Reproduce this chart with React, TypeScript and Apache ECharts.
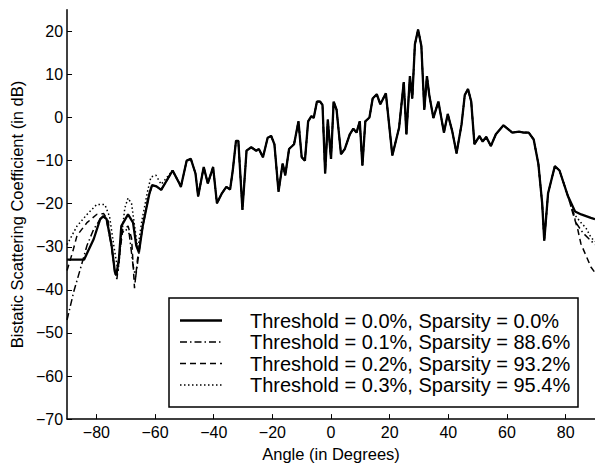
import React, { useEffect, useRef } from "react";
import * as echarts from "echarts";

// Angle (deg), bistatic scattering coefficient (dB) — threshold 0.0% (solid)
const solidPoints: [number, number][] = [
  [-90, -33], [-84.2, -33], [-80.9, -28.2], [-78.7, -23.6], [-77.6, -22.9], [-76.5, -23.6],
  [-74.8, -29.7], [-73.7, -35.8], [-73.2, -36.6], [-72.3, -32.8], [-71.5, -25.2], [-69.2, -22.5],
  [-67.5, -24.4], [-66.4, -29.7], [-65.5, -31.3], [-64.2, -25.2], [-61.9, -17.6], [-61, -15.7],
  [-59.5, -16], [-57.9, -16.8], [-54, -12.3], [-51.7, -15.3], [-51.2, -16.1], [-49.2, -10],
  [-47.8, -9.6], [-46.2, -13], [-45.3, -18.3], [-43.4, -11.5], [-42, -15.3], [-40.2, -11.5],
  [-38.9, -19.9], [-37.2, -17.6], [-35.7, -16.1], [-34.4, -16.7], [-33.5, -12.3], [-32.4, -5.4],
  [-31.6, -5.4], [-30.2, -21.4], [-28.8, -7.7], [-27.2, -6.9], [-25.5, -7.7], [-24.6, -7.3],
  [-23.2, -9.2], [-21.6, -4.7], [-20.4, -4.3], [-19.3, -6.2], [-17.9, -17.2], [-16.5, -10.7],
  [-15.6, -13.4], [-14.3, -7.3], [-12.6, -6.2], [-11.1, -0.9], [-10, -9.2], [-8.9, -10],
  [-7.8, -0.9], [-6.7, 0.3], [-5.9, -0.1], [-4.8, 3.7], [-3.7, 3.7], [-2.9, 2.9], [-2, -13],
  [-1.1, -0.5], [0, -9.6], [0.9, 3.7], [1.9, 1.8], [3.4, -8.5], [4.7, -7.3], [6.4, -3.9],
  [7.6, -2.6], [8.7, -3.5], [9.8, -0.9], [10.7, -11.1], [11.7, -0.9], [13.1, 0], [14.2, 4.4],
  [15.6, 5.4], [16.8, 3.1], [18.7, 5.6], [20.9, -8.8], [23.2, -2.4], [24.8, 8.2], [25.7, -3.9],
  [26.9, 9.6], [27.7, 4.4], [28.6, 17], [29.7, 20.4], [30.8, 16.6], [31.8, 1.8], [32.7, 9.6],
  [33.5, 5.2], [34.9, -0.1], [36.6, 3.7], [38.5, -3.5], [39.8, 0.8], [41.3, -3.1], [42.8, -8.3],
  [44.5, -1.6], [45.6, 5.2], [46.7, 6.6], [47.8, 3.7], [48.9, -6.2], [50.6, -4.3], [51.7, -5.6],
  [52.9, -4.5], [54.5, -6.6], [56.2, -3.9], [58.8, -1.8], [61.8, -3.5], [64.1, -3.3], [65.7, -3.5],
  [67.4, -3.5], [69.1, -5.1], [70.7, -10.8], [72, -20], [72.7, -28.6], [74, -17.6], [76.3, -11.3],
  [77.9, -12.3], [80.8, -18.3], [83.2, -21.8], [85.3, -22.5], [88.6, -23.3], [90, -23.6],
];

// Threshold 0.1% (dash-dot): edges that differ from the solid curve
const dashDotLeft: [number, number][] = [
  [-90, -47], [-87.7, -40.4], [-85.4, -35], [-83.2, -29.7], [-80.9, -25.9], [-78.7, -23.6],
  [-77.6, -23], [-76.5, -24], [-74.8, -30], [-73.7, -36], [-73, -37.5], [-72.3, -33],
  [-71.5, -27], [-70, -25.9], [-68.8, -27], [-67.5, -34.3], [-66.6, -37], [-65.8, -33],
  [-64.2, -25.2], [-61.9, -17.6], [-61, -15.7],
];
const dashDotRight: [number, number][] = [
  [82.4, -21.5], [83.5, -24.4], [85.8, -26.7], [88, -28.2], [90, -29.5],
];

// Threshold 0.2% (dashed)
const dashedLeft: [number, number][] = [
  [-90, -35.5], [-88, -31], [-86.6, -27.4], [-83.2, -24.4], [-79.9, -22.5], [-77.5, -22.3],
  [-76, -24], [-74.8, -30], [-73.7, -35.8], [-73.2, -37], [-72.3, -33], [-71, -26],
  [-69.2, -25.2], [-68, -28], [-67, -39.6], [-66, -33], [-64.7, -27.4], [-62.5, -19], [-61, -15.7],
];
const dashedRight: [number, number][] = [
  [82.4, -22.1], [84.1, -25.9], [85.2, -29.3], [86.9, -32], [88.6, -34.7], [90, -36],
];

// Threshold 0.3% (dotted)
const dottedLeft: [number, number][] = [
  [-90, -29.5], [-86.6, -25.2], [-83.2, -22.5], [-79.9, -20.2], [-77.1, -20.2], [-75.5, -23],
  [-74, -30], [-72.6, -35.8], [-71.5, -28], [-70.3, -21], [-69.2, -18.7], [-68, -20],
  [-66.8, -26], [-65.9, -30.5], [-64.5, -24], [-62.5, -17], [-61.4, -13.8], [-59.7, -13.4],
  [-57.9, -15.5],
];
const dottedRight: [number, number][] = [
  [82.4, -22], [85.2, -24.4], [86.9, -25.6], [88.6, -27.8], [90, -28.8],
];

const legendLabels = [
  "Threshold = 0.0%, Sparsity = 0.0%",
  "Threshold = 0.1%, Sparsity = 88.6%",
  "Threshold = 0.2%, Sparsity = 93.2%",
  "Threshold = 0.3%, Sparsity = 95.4%",
];

const xTicks = [-80, -60, -40, -20, 0, 20, 40, 60, 80];
const yTicks = [-70, -60, -50, -40, -30, -20, -10, 0, 10, 20];

function joinSeg(
  left: [number, number][],
  right: [number, number][],
): [number, number][] {
  const lx = left[left.length - 1][0];
  const rx = right[0][0];
  const mid = solidPoints.filter((p) => p[0] > lx && p[0] < rx);
  return [...left, ...mid, ...right];
}

const FONT = '"Liberation Sans", Arial, Helvetica, sans-serif';
const minus = (v: number) => (v < 0 ? "\u2212" + Math.abs(v) : String(v));

export default function App() {
  const ref = useRef<HTMLDivElement>(null);
  useEffect(() => {
    if (!ref.current) return;
    const chart = echarts.init(ref.current, null, { renderer: "svg" });
    const styles: { dash: any; width: number }[] = [
      { dash: "solid", width: 2.3 },
      { dash: [7, 3, 1.5, 3], width: 1.5 },
      { dash: [6, 4], width: 1.5 },
      { dash: [1.5, 2.5], width: 1.5 },
    ];
    const seriesData = [
      solidPoints,
      joinSeg(dashDotLeft, dashDotRight),
      joinSeg(dashedLeft, dashedRight),
      joinSeg(dottedLeft, dottedRight),
    ];
    const rows = [320.5, 342, 363.5, 385];
    const legendGraphics: any[] = [
      {
        type: "rect",
        shape: { x: 169, y: 298, width: 409, height: 109 },
        style: { fill: "#fff", stroke: "#000", lineWidth: 1.5 },
        z: 100,
      },
    ];
    rows.forEach((ry, i) => {
      legendGraphics.push({
        type: "line",
        shape: { x1: 180, y1: ry, x2: 222, y2: ry },
        style: {
          stroke: "#000",
          lineWidth: styles[i].width,
          lineDash: styles[i].dash === "solid" ? null : styles[i].dash,
        },
        z: 101,
      });
      legendGraphics.push({
        type: "text",
        x: 250,
        y: ry,
        style: {
          text: legendLabels[i],
          fontSize: 20,
          fontFamily: FONT,
          fill: "#000",
          verticalAlign: "middle",
        },
        z: 101,
      });
    });

    chart.setOption({
      animation: false,
      backgroundColor: "#fff",
      grid: { left: 61.5, right: -2.5, top: 9.8, bottom: 40.3, containLabel: false },
      xAxis: {
        type: "value",
        min: -90,
        max: 90,
        name: "Angle (in Degrees)",
        nameLocation: "middle",
        nameGap: 22,
        nameTextStyle: { fontSize: 16.5, fontFamily: FONT, color: "#000" },
        axisLine: { show: true, onZero: false, lineStyle: { color: "#000", width: 1.5 } },
        axisTick: { show: true, inside: true, length: 5, customValues: xTicks, lineStyle: { color: "#000" } },
        axisLabel: {
          customValues: xTicks,
          margin: 5,
          fontSize: 16,
          fontFamily: FONT,
          color: "#000",
          formatter: (v: number) => minus(v),
        },
        splitLine: { show: false },
      },
      yAxis: {
        type: "value",
        min: -70,
        max: 25,
        name: "Bistatic Scattering Coefficient (in dB)",
        nameLocation: "middle",
        nameGap: 30,
        nameTextStyle: { fontSize: 16.5, fontFamily: FONT, color: "#000" },
        axisLine: { show: true, onZero: false, lineStyle: { color: "#000", width: 1.5 } },
        axisTick: { show: true, inside: true, length: 5, customValues: yTicks, lineStyle: { color: "#000" } },
        axisLabel: {
          customValues: yTicks,
          margin: 4,
          fontSize: 16,
          fontFamily: FONT,
          color: "#000",
          formatter: (v: number) => minus(v),
        },
        splitLine: { show: false },
      },
      series: seriesData.map((d, i) => ({
        type: "line",
        data: d,
        showSymbol: false,
        symbol: "none",
        silent: true,
        z: 10 - i,
        lineStyle: { color: "#000", width: styles[i].width, type: styles[i].dash },
      })),
      graphic: legendGraphics,
    });
    return () => chart.dispose();
  }, []);
  return (
    <div
      ref={ref}
      style={{ position: "fixed", left: 0, top: 0, width: 595, height: 467, background: "#fff" }}
    />
  );
}
